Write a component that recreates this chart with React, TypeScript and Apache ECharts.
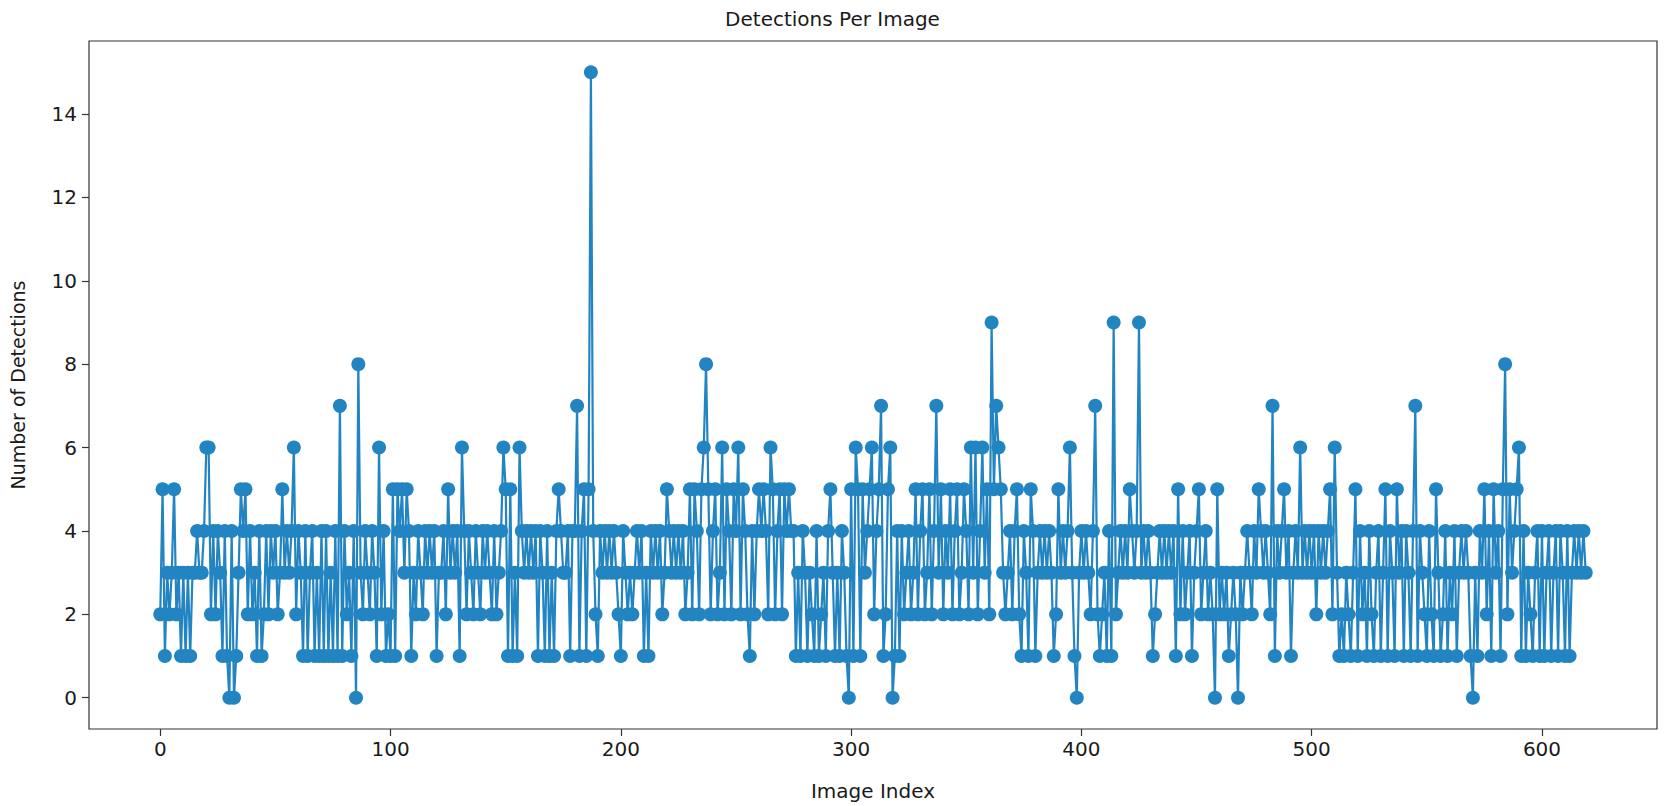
import React, { useEffect, useRef } from "react";
import * as echarts from "echarts";

const chartTitle = "Detections Per Image";
const xAxisTitle = "Image Index";
const yAxisTitle = "Number of Detections";
const xTickValues = [0, 100, 200, 300, 400, 500, 600];
const yTickValues = [0, 2, 4, 6, 8, 10, 12, 14];

// detections per image, index 0..619
const detections0 = [
  2, 5, 1, 3, 2, 3, 5, 2, 3, 1, 3, 1, 3, 1, 3, 3, 4, 3, 3, 4,
  6, 6, 2, 4, 2, 4, 3, 1, 4, 1, 0, 4, 0, 1, 3, 5, 4, 5, 2, 4,
  2, 3, 1, 4, 1, 2, 4, 2, 4, 3, 4, 2, 3, 5, 3, 4, 3, 4, 6, 2,
  4, 3, 1, 4, 1, 3, 4, 1, 3, 1, 4, 1, 4, 1, 3, 1, 4, 1, 7, 1,
  4, 2, 3, 1, 4, 0, 8, 3, 2, 4, 3, 2, 4, 3, 1, 6, 2, 4, 1, 2,
  1, 5, 1, 5, 4, 5, 3, 5, 4, 1, 3, 2, 4, 3, 2, 4, 3, 4, 3, 4,
  1, 3, 3, 4, 2, 5, 3, 4, 3, 4, 1, 6, 4, 2, 4, 3, 2, 4, 3, 2,
  4, 3, 4, 3, 2, 4, 2, 3, 4, 6, 5, 1, 5, 1, 3, 1, 6, 4, 3, 4,
];
const detections1 = [
  3, 4, 3, 4, 1, 4, 3, 1, 4, 1, 3, 1, 4, 5, 4, 3, 3, 4, 1, 4,
  4, 7, 1, 4, 5, 1, 5, 15, 4, 2, 1, 4, 3, 4, 3, 4, 3, 4, 3, 2,
  1, 4, 3, 2, 3, 2, 3, 4, 3, 4, 1, 3, 1, 4, 3, 4, 3, 4, 2, 3,
  5, 4, 3, 4, 3, 4, 3, 4, 2, 3, 5, 2, 5, 4, 2, 5, 6, 8, 5, 2,
  4, 5, 2, 3, 6, 2, 5, 4, 2, 5, 4, 6, 2, 5, 4, 2, 1, 4, 2, 4,
  5, 4, 5, 4, 2, 6, 5, 2, 4, 5, 2, 5, 4, 5, 4, 4, 1, 3, 1, 4,
  3, 1, 3, 2, 1, 4, 1, 2, 3, 1, 4, 5, 3, 1, 3, 1, 4, 3, 1, 0,
];
const detections2 = [
  5, 1, 6, 5, 1, 5, 3, 4, 5, 6, 2, 4, 5, 7, 1, 2, 5, 6, 0, 1,
  4, 1, 4, 2, 3, 4, 2, 3, 5, 2, 4, 5, 2, 3, 5, 2, 4, 7, 3, 5,
  2, 4, 3, 5, 2, 4, 5, 2, 3, 5, 4, 2, 6, 3, 6, 2, 4, 6, 3, 5,
  2, 9, 5, 7, 6, 5, 3, 2, 3, 4, 2, 4, 5, 2, 1, 4, 3, 1, 5, 4,
  1, 3, 4, 3, 4, 3, 4, 3, 1, 2, 5, 3, 4, 3, 4, 6, 3, 1, 0, 3,
  4, 3, 4, 3, 2, 4, 7, 2, 1, 2, 3, 1, 4, 1, 9, 2, 3, 4, 3, 4,
  3, 5, 4, 3, 4, 9, 3, 4, 3, 4, 3, 1, 2, 3, 4, 3, 4, 3, 4, 3,
];
const detections3 = [
  4, 1, 5, 2, 4, 2, 3, 4, 1, 3, 4, 5, 2, 3, 4, 2, 3, 2, 0, 5,
  2, 3, 2, 3, 1, 2, 3, 2, 0, 3, 2, 3, 4, 3, 2, 4, 3, 5, 4, 3,
  4, 3, 2, 7, 1, 4, 3, 4, 5, 3, 4, 1, 3, 4, 3, 6, 3, 4, 3, 4,
  3, 4, 2, 4, 3, 4, 3, 4, 5, 2, 6, 3, 1, 2, 1, 3, 2, 1, 3, 5,
  1, 4, 2, 3, 1, 4, 2, 1, 3, 4, 1, 3, 5, 1, 4, 3, 1, 5, 3, 4,
  1, 4, 3, 1, 4, 7, 1, 4, 3, 2, 1, 4, 2, 1, 5, 3, 1, 2, 4, 1,
  3, 2, 4, 1, 3, 4, 3, 4, 3, 1, 0, 3, 1, 4, 3, 5, 2, 4, 1, 5,
  3, 4, 1, 5, 8, 2, 5, 3, 4, 5, 6, 1, 4, 1, 3, 2, 1, 3, 4, 1,
  4, 1, 3, 4, 1, 3, 4, 1, 4, 3, 1, 4, 1, 3, 4, 3, 4, 3, 4, 3,
];

const detections = [...detections0, ...detections1, ...detections2, ...detections3];

export default function App() {
  const ref = useRef<HTMLDivElement>(null);
  useEffect(() => {
    if (!ref.current) return;
    const chart = echarts.init(ref.current, null, { renderer: "svg" });
    const font = "DejaVu Sans";
    const ink = "#1a1a1a";
    const blue = "#2384c2";
    const n = detections.length;
    const margin = 0.05 * (n - 1);
    chart.setOption({
      animation: false,
      backgroundColor: "#fff",
      textStyle: { fontFamily: font },
      title: {
        text: chartTitle,
        left: "center",
        top: 4,
        textStyle: { fontFamily: font, fontSize: 20, fontWeight: "normal", color: ink },
      },
      grid: {
        left: 84,
        right: 8,
        top: 41,
        bottom: 77,
        show: true,
        borderColor: "#333",
        borderWidth: 1.2,
        backgroundColor: "transparent",
      },
      xAxis: {
        type: "value",
        min: -margin,
        max: n - 1 + margin,
        name: xAxisTitle,
        nameLocation: "middle",
        nameGap: 52,
        nameTextStyle: { fontFamily: font, fontSize: 20, color: ink },
        splitLine: { show: false },
        axisLine: { show: false, onZero: false },
        axisTick: {
          show: true,
          inside: false,
          length: 7,
          lineStyle: { color: "#333", width: 1.2 },
          customValues: xTickValues,
        },
        axisLabel: {
          fontFamily: font,
          fontSize: 20,
          color: ink,
          margin: 10,
          customValues: xTickValues,
        },
      },
      yAxis: {
        type: "value",
        min: -0.75,
        max: 15.75,
        name: yAxisTitle,
        nameLocation: "middle",
        nameGap: 62,
        nameRotate: 90,
        nameTextStyle: { fontFamily: font, fontSize: 19, color: ink },
        splitLine: { show: false },
        axisLine: { show: false, onZero: false },
        axisTick: {
          show: true,
          inside: false,
          length: 7,
          lineStyle: { color: "#333", width: 1.2 },
          customValues: yTickValues,
        },
        axisLabel: {
          fontFamily: font,
          fontSize: 20,
          color: ink,
          margin: 12,
          customValues: yTickValues,
        },
      },
      series: [
        {
          type: "line",
          data: detections.map((v, i) => [i, v]),
          symbol: "circle",
          symbolSize: 14,
          showSymbol: true,
          showAllSymbol: true,
          itemStyle: { color: blue },
          lineStyle: { color: blue, width: 2.2 },
          emphasis: { disabled: true },
        },
      ],
    });
    return () => chart.dispose();
  }, []);
  return (
    <div
      ref={ref}
      style={{ position: "absolute", left: 0, top: 0, width: 1665, height: 806 }}
    />
  );
}
